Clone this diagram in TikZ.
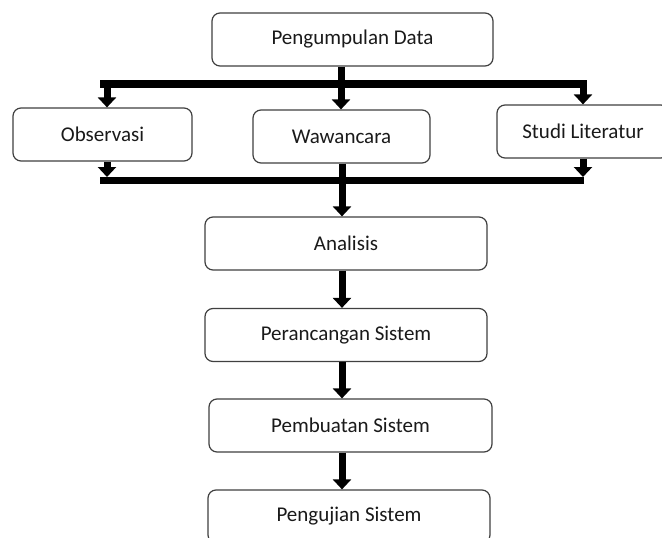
\documentclass[tikz,border=0pt]{standalone}
\usepackage{fontspec}
\setmainfont{Carlito}
\usetikzlibrary{arrows.meta}
\definecolor{boxline}{HTML}{404040}
\definecolor{txt}{HTML}{1A1A1A}
\tikzset{
  stepbox/.style={draw=boxline, line width=1.2pt, rounded corners=8pt, fill=white,
    minimum height=53pt, inner sep=0pt, text=txt, font=\fontsize{21pt}{25pt}\selectfont},
  fat/.style={line width=7pt, -{Triangle[width=18pt,length=10pt]}},
  barline/.style={line width=8pt},
}
\begin{document}
\begin{tikzpicture}[x=1pt,y=-1pt]
\useasboundingbox (0,0) rectangle (662,538);
\clip (0,0) rectangle (662,538);
\fill[white] (0,0) rectangle (662,538);

\node[stepbox, minimum width=281pt] (pd)  at (352.5,39.5) {Pengumpulan Data};
\node[stepbox, minimum width=179pt] (obs) at (102.5,134.5) {Observasi};
\node[stepbox, minimum width=177pt] (waw) at (341.5,136.5) {Wawancara};
\node[stepbox, minimum width=172pt] (stu) at (583,131.5) {Studi Literatur};
\node[stepbox, minimum width=282pt] (ana) at (346,243.5) {Analisis};
\node[stepbox, minimum width=282pt] (per) at (346,335) {Perancangan Sistem};
\node[stepbox, minimum width=283pt] (pem) at (350.5,425.5) {Pembuatan Sistem};
\node[stepbox, minimum width=282pt] (pen) at (349,516.5) {Pengujian Sistem};

% upper distribution bar
\coordinate (tl) at (100,83.5);
\coordinate (tr) at (587,83.5);
\coordinate (tm) at (341,83.5);
\coordinate (t1) at (107,83.5);
\coordinate (t3) at (583,83.5);
\draw[barline] (tl) -- (tr);
\draw[line width=7pt] (tm |- pd.south) -- ([yshift=4pt]tm);
\draw[fat] ([yshift=-2pt]t1) -- (t1 |- obs.north);
\draw[fat] ([yshift=-2pt]tm) -- (tm |- waw.north);
\draw[fat] ([yshift=-2pt]t3) -- (t3 |- stu.north);

% lower collecting bar
\coordinate (bl) at (100,180.5);
\coordinate (br) at (584,180.5);
\coordinate (b1) at (107,177);
\coordinate (b3) at (583,177);
\coordinate (bm) at (342,180.5);
\draw[barline, line width=7pt] (bl) -- (br);
\draw[fat] (b1 |- obs.south) -- (b1);
\draw[fat] (b3 |- stu.south) -- (b3);
\draw[fat] (bm |- waw.south) -- (bm |- ana.north);

% main chain
\draw[fat] (bm |- ana.south) -- (bm |- per.north);
\draw[fat] (bm |- per.south) -- (bm |- pem.north);
\draw[fat] (bm |- pem.south) -- (bm |- pen.north);
\end{tikzpicture}
\end{document}
